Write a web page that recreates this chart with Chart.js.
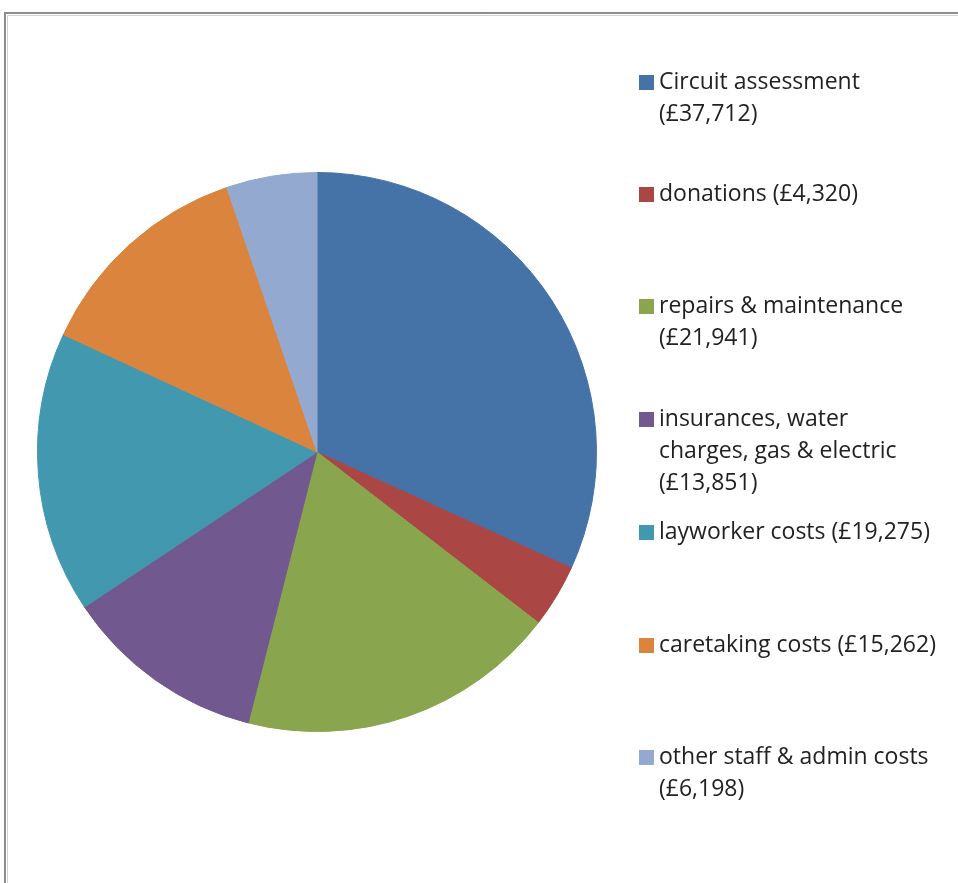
<!DOCTYPE html>
<html lang="en">
<head>
    <meta charset="UTF-8">
    <title>Expenditure</title>
    <script src="https://cdn.jsdelivr.net/npm/chart.js"></script>
    <style>
        html, body { margin: 0; padding: 0; background: #fff; }
        #wrap { width: 958px; height: 883px; }
    </style>
</head>
<body>
    <div id="wrap"><canvas id="pie" width="958" height="883"></canvas></div>
    <script>
        // chart data
        const categories = [
            ['Circuit assessment', '(£37,712)'],
            ['donations (£4,320)'],
            ['repairs & maintenance', '(£21,941)'],
            ['insurances, water', 'charges, gas & electric', '(£13,851)'],
            ['layworker costs (£19,275)'],
            ['caretaking costs (£15,262)'],
            ['other staff & admin costs', '(£6,198)']
        ];
        const amounts = [37712, 4320, 21941, 13851, 19275, 15262, 6198];
        const colours = ['#4572A7', '#AA4643', '#89A54E', '#71588F', '#4198AF', '#DB843D', '#93A9CF'];

        // y of the first text line of each legend entry
        const legendTops = [82, 194, 306, 419, 532, 645, 757];

        const framePlugin = {
            id: 'frame',
            beforeDraw(chart) {
                const ctx = chart.ctx;
                ctx.save();
                ctx.strokeStyle = '#8c8c8c';
                ctx.lineWidth = 2;
                ctx.beginPath();
                ctx.moveTo(5, 883);
                ctx.lineTo(5, 13);
                ctx.lineTo(958, 13);
                ctx.stroke();
                ctx.strokeStyle = '#d0d0d0';
                ctx.lineWidth = 1;
                ctx.beginPath();
                ctx.moveTo(7.5, 883);
                ctx.lineTo(7.5, 15.5);
                ctx.lineTo(958, 15.5);
                ctx.stroke();
                ctx.restore();
            }
        };

        const sideLegend = {
            id: 'sideLegend',
            afterDraw(chart) {
                const ctx = chart.ctx;
                const labels = chart.data.labels;
                const bg = chart.data.datasets[0].backgroundColor;
                ctx.save();
                ctx.font = '23px "Open Sans"';
                ctx.textBaseline = 'middle';
                labels.forEach((lines, i) => {
                    const y0 = legendTops[i];
                    ctx.fillStyle = bg[i];
                    ctx.fillRect(639, y0 - 7, 15, 15);
                    ctx.fillStyle = '#222';
                    lines.forEach((t, j) => {
                        ctx.fillText(t, 659, y0 + j * 32);
                    });
                });
                ctx.restore();
            }
        };

        new Chart(document.getElementById('pie'), {
            type: 'pie',
            data: {
                labels: categories,
                datasets: [{
                    data: amounts,
                    backgroundColor: colours,
                    borderColor: colours,
                    borderWidth: 1
                }]
            },
            options: {
                responsive: false,
                animation: false,
                layout: { padding: { left: 37, right: 361, top: 172, bottom: 151 } },
                plugins: {
                    legend: { display: false },
                    tooltip: { enabled: false }
                }
            },
            plugins: [framePlugin, sideLegend]
        });
    </script>
</body>
</html>
